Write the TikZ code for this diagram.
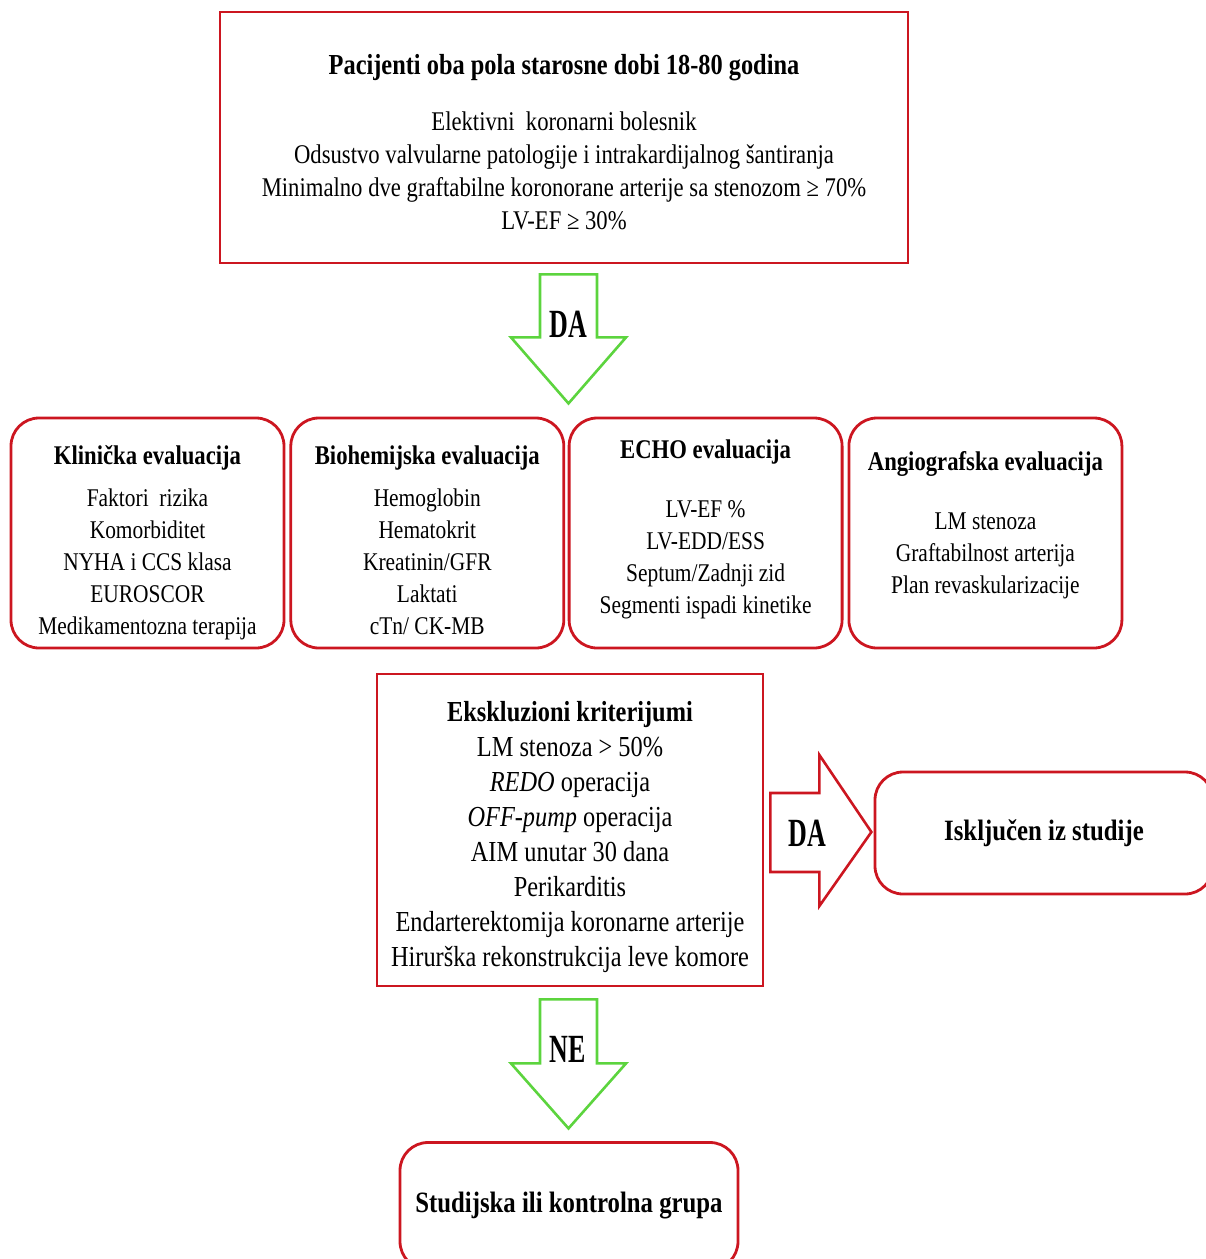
\documentclass[tikz,border=0pt]{standalone}
\usepackage{fontspec}
\setmainfont{Liberation Serif}[FakeStretch=0.84]
\newfontfamily\lblfont{Liberation Serif}[FakeStretch=0.65]
\usetikzlibrary{positioning,calc}
\definecolor{boxred}{RGB}{204,22,32}
\definecolor{arrowgreen}{RGB}{92,212,62}

\begin{document}
\begin{tikzpicture}[x=1pt,y=-1pt,
   box/.style={draw=boxred,line width=2.8pt,align=center,inner sep=0pt},
   rbox/.style={box,rounded corners=28pt,minimum width=273pt,minimum height=230pt,
     font=\fontsize{25.5}{32}\selectfont},
   garrow/.style={draw=arrowgreen,line width=2.6pt,line join=miter},
   rarrow/.style={draw=boxred,line width=2.6pt,line join=miter},
   lbl/.style={font=\lblfont\fontsize{40}{40}\selectfont\bfseries,inner sep=0pt}]
  \useasboundingbox (0,0) rectangle (1206,1259);

  % inclusion criteria
  \node[box,minimum width=688pt,minimum height=251pt,font=\fontsize{27}{33}\selectfont]
    (top) at (564,137.5)
    {\rule{0pt}{30pt}{\fontsize{29}{33}\selectfont\bfseries Pacijenti oba pola starosne dobi 18-80 godina}\\[23pt]
     Elektivni\ \ koronarni bolesnik\\
     Odsustvo valvularne patologije i intrakardijalnog šantiranja\\
     Minimalno dve graftabilne koronorane arterije sa stenozom ≥ 70\%\\
     LV-EF ≥ 30\%};

  % evaluation row
  \node[rbox] (clin) at (147.5,533)
    {\rule{0pt}{38pt}{\fontsize{27}{32}\selectfont\bfseries Klinička evaluacija}\\[10pt]
     Faktori\ \ rizika\\ Komorbiditet\\ NYHA i CCS klasa\\ EUROSCOR\\ Medikamentozna terapija};
  \node[rbox,right=4pt of clin] (bio)
    {\rule{0pt}{34pt}{\fontsize{27}{32}\selectfont\bfseries Biohemijska evaluacija}\\[10pt]
     Hemoglobin\\ Hematokrit\\ Kreatinin/GFR\\ Laktati\\ cTn/ CK-MB};
  \node[rbox,right=2.5pt of bio] (echo)
    {\rule{0pt}{32pt}{\fontsize{27}{32}\selectfont\bfseries ECHO evaluacija}\\[27pt]
     LV-EF~\%\\ LV-EDD/ESS\\ Septum/Zadnji zid\\ Segmenti ispadi kinetike\\[-15pt]\strut};
  \node[rbox,right=4pt of echo] (angio)
    {\rule{0pt}{40pt}{\fontsize{27}{32}\selectfont\bfseries Angiografska evaluacija}\\[27pt]
     LM stenoza\\ Graftabilnost arterija\\ Plan revaskularizacije\\ \strut};

  % exclusion criteria
  \node[box,minimum width=386pt,minimum height=312pt,font=\fontsize{29}{35}\selectfont]
    (excl) at (570,830)
    {\rule{0pt}{34pt}\textbf{Ekskluzioni kriterijumi}\\
     LM stenoza > 50\%\\
     \textit{REDO} operacija\\
     \textit{OFF-pump} operacija\\
     AIM unutar 30 dana\\
     Perikarditis\\
     Endarterektomija koronarne arterije\\
     Hirurška rekonstrukcija leve komore};

  \node[box,rounded corners=28pt,minimum width=338pt,minimum height=122pt,
        font=\fontsize{29.5}{35}\selectfont\bfseries]
    (out) at (1044,833) {Isključen iz studije};
  \node[box,rounded corners=28pt,minimum width=338pt,minimum height=127pt,
        font=\fontsize{29.5}{35}\selectfont\bfseries]
    (grp) at (569,1206) {Studijska ili kontrolna grupa};

  % block arrows
  \draw[garrow] ($(top.south)+(-24,10)$) -- ++(0,63) -- ++(-29,0) -- ++(57.5,66)
    -- ++(57.5,-66) -- ++(-29,0) -- ++(0,-63) -- cycle;
  \node[lbl] (da1) at ($(top.south)+(4,60)$) {DA};

  \draw[rarrow] ($(excl.east)+(6,-37)$) -- ++(49,0) -- ++(0,-38) -- ++(52,77)
    -- ++(-52,74) -- ++(0,-34) -- ++(-49,0) -- cycle;
  \node[lbl] (da2) at ($(excl.east)+(43,3)$) {DA};

  \draw[garrow] ($(excl.south)+(-30,12)$) -- ++(0,64) -- ++(-29,0) -- ++(57.5,65)
    -- ++(57.5,-65) -- ++(-29,0) -- ++(0,-64) -- cycle;
  \node[lbl] (ne) at ($(excl.south)+(-2,62)$) {NE};
\end{tikzpicture}
\end{document}
